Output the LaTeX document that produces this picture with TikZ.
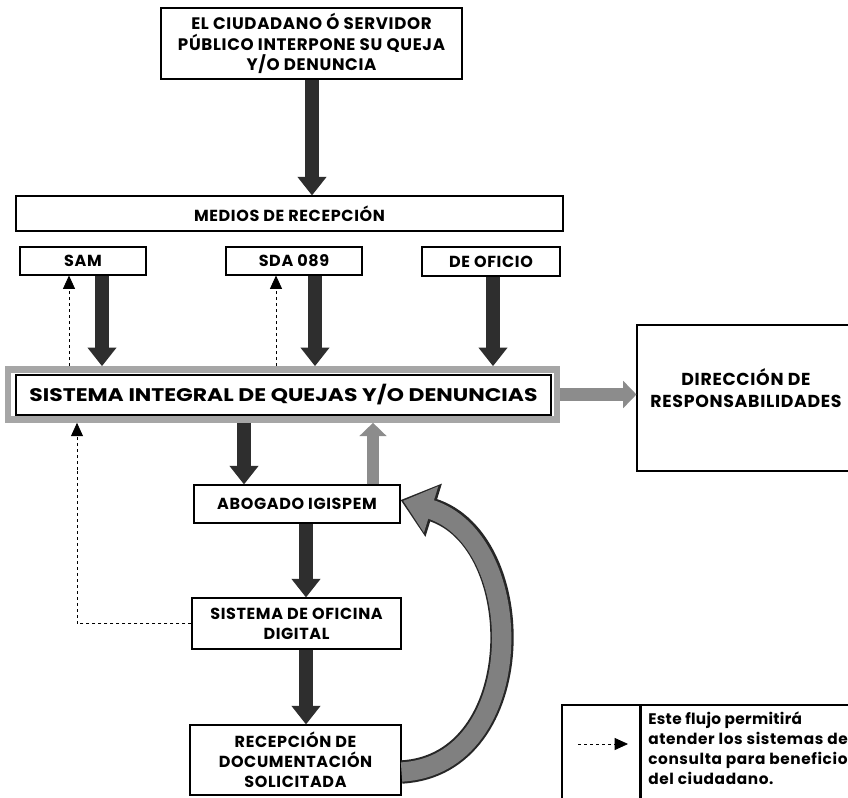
\documentclass[tikz,border=0pt]{standalone}
\usepackage{fontspec}
\setmainfont{Poppins}[LetterSpace=4]
\usetikzlibrary{arrows.meta}
\begin{document}
\begin{tikzpicture}[x=0.75pt,y=-0.75pt,
  sz/.style 2 args={minimum width=#1*0.75pt, minimum height=#2*0.75pt},
  box/.style={draw=black, line width=0.8pt, inner sep=0pt, align=center,
    font=\bfseries\fontsize{12}{15}\selectfont},
  bigarrow/.style={draw=black!82, line width=10pt, -{Triangle[width=21pt,length=14pt]}},
  grayarrow/.style={draw=black!45, line width=9.5pt, -{Triangle[width=20pt,length=10pt]}},
  dasharrow/.style={draw=black, line width=0.6pt, dash pattern=on 2.5pt off 2pt,
    -{Triangle[width=9pt,length=10pt]}},
  dashline/.style={draw=black, line width=0.6pt, dash pattern=on 2.5pt off 2pt},
  curveout/.style={draw=black!85, line width=17.5pt, -{Triangle[width=40pt,length=26pt]}},
  curvein/.style={draw=black!50, line width=14.5pt, shorten >=2pt, -{Triangle[width=35pt,length=22pt]}},
]
\useasboundingbox (0,0) rectangle (848,798);
\fill[white] (0,0) rectangle (848,798);

% boxes
\node[box, sz={301}{71}, font=\bfseries\fontsize{12.5}{15.5}\selectfont] (top) at (311.5,43.5) {EL CIUDADANO Ó SERVIDOR\\PÚBLICO INTERPONE SU QUEJA\\Y/O DENUNCIA};
\node[box, sz={547}{35}] (medios) at (289.5,213.5) {MEDIOS DE RECEPCIÓN};
\node[box, sz={126}{28}] (sam) at (83,261) {SAM};
\node[box, sz={136}{28}] (sda) at (294,261) {SDA 089};
\node[box, sz={138}{29}] (oficio) at (491,261.5) {DE OFICIO};
\node[draw=black!35, line width=5pt, sz={549}{50}] (siqo) at (282.5,394.5) {};
\node[box, sz={535}{40}] (siq) at (283.5,395)
  {\resizebox{381pt}{13pt}{\addfontfeature{LetterSpace=0}SISTEMA INTEGRAL DE QUEJAS Y/O DENUNCIAS}};
\node[box, sz={223}{146}] (dir) at (748.5,398) {};
\node[font=\bfseries\fontsize{13}{17}\selectfont, align=center] (dirt) at (746,388) {DIRECCIÓN DE\\RESPONSABILIDADES};
\node[box, sz={206}{38}] (abog) at (297,504) {ABOGADO IGISPEM};
\node[box, sz={209}{51}] (ofic) at (296.5,623.5) {SISTEMA DE OFICINA\\DIGITAL};
\node[box, sz={211}{70}] (recep) at (295.5,760) {RECEPCIÓN DE\\DOCUMENTACIÓN\\SOLICITADA};

% legend
\node[box, sz={78}{100}] (legl) at (601,755) {};
\node[box, sz={219}{100}] (legr) at (750.5,755) {};
\node[anchor=north west, align=left, inner sep=0pt,
  font=\bfseries\fontsize{11.5}{15}\selectfont] (legt) at (648,711)
  {\addfontfeature{LetterSpace=2}Este flujo permitirá\\atender los sistemas de\\consulta para beneficio\\del ciudadano.};
\coordinate (la) at (578,744);
\coordinate (lb) at (628,744);
\draw[dasharrow] (la) -- (lb);

% main flow
\draw[bigarrow] (top.south -| 312,0) -- (medios.north -| 312,0);
\draw[bigarrow] (sam.south -| 102,0) -- (siqo.north -| 102,0);
\draw[bigarrow] (sda.south -| 315,0) -- (siqo.north -| 315,0);
\draw[bigarrow] (oficio.south -| 493,0) -- (siqo.north -| 493,0);
\draw[dasharrow] (siqo.north -| 69,0) -- (sam.south -| 69,0);
\draw[dasharrow] (siqo.north -| 276,0) -- (sda.south -| 276,0);
\draw[grayarrow] (siqo.east) -- (dir.west |- siqo.east);
\draw[bigarrow] (siqo.south -| 244,0) -- (abog.north -| 244,0);
\draw[grayarrow] (abog.north -| 373,0) -- (siqo.south -| 373,0);
\draw[bigarrow] (abog.south -| 306,0) -- (ofic.north -| 306,0);
\draw[bigarrow] (ofic.south -| 306,0) -- (recep.north -| 306,0);
\draw[dashline] (ofic.west) -| (77,470);
\draw[dasharrow] (77,470) -- (siqo.south -| 77,0);
\draw[curveout] (recep.east |- 0,772) .. controls (530,765) and (530,540) .. (abog.east |- 0,500);
\draw[curvein] (recep.east |- 0,772) .. controls (530,765) and (530,540) .. (abog.east |- 0,500);
\end{tikzpicture}
\end{document}
